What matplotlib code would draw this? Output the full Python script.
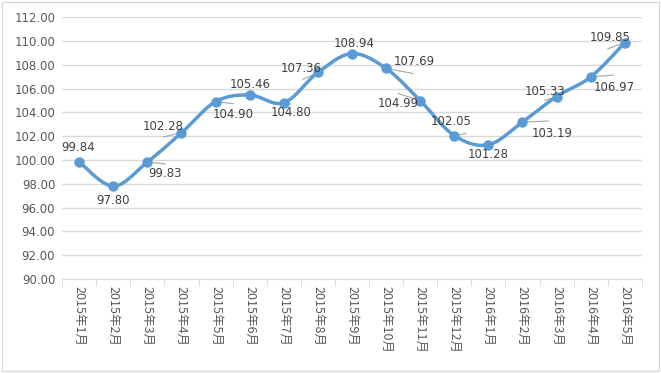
import matplotlib
matplotlib.use("Agg")
import matplotlib.pyplot as plt
import numpy as np

plt.rcParams['font.family'] = ['Noto Sans CJK SC', 'DejaVu Sans']

months = ["2015年1月", "2015年2月", "2015年3月", "2015年4月", "2015年5月", "2015年6月",
          "2015年7月", "2015年8月", "2015年9月", "2015年10月", "2015年11月", "2015年12月",
          "2016年1月", "2016年2月", "2016年3月", "2016年4月", "2016年5月"]
values = [99.84, 97.80, 99.83, 102.28, 104.90, 105.46, 104.80, 107.36, 108.94,
          107.69, 104.99, 102.05, 101.28, 103.19, 105.33, 106.97, 109.85]

# label offsets in pixels (dx, dy)
label_off = [(-1, 14), (0, -14), (18, -11), (-18, 6), (18, -13), (0, 10), (7, -10),
             (-17, 4), (2, 10), (28, 7), (-22, -3), (-3, 14), (0, -10), (30, -11),
             (-12, 5), (24, -10), (-15, 5)]
# leader line end (pixels from the point), None = no leader
leader = [None, None, (18, -2), (-18, -4), (18, -2), None, (7, -1), (-15, -7), None,
          (27, -5), (-22, 7), (12, 2), None, (26, 1), (-12, -4), (23, 2), (-17, -6)]

color = '#5B9BD5'

fig = plt.figure(figsize=(6.61, 3.73), dpi=100)
ax = fig.add_axes([0.094, 0.252, 0.877, 0.702])

# smooth curve (Catmull-Rom, like Excel's smoothed line)
x = np.arange(len(values), dtype=float)
y = np.array(values)
px = np.concatenate([[x[0]], x, [x[-1]]])
py = np.concatenate([[y[0]], y, [y[-1]]])
sx, sy = [], []
t = np.linspace(0, 1, 30)
for i in range(1, len(px) - 2):
    p0, p1, p2, p3 = [np.array([px[j], py[j]]) for j in (i - 1, i, i + 1, i + 2)]
    c1 = p1 + (p2 - p0) / 6
    c2 = p2 - (p3 - p1) / 6
    pts = ((1 - t) ** 3)[:, None] * p1 + (3 * (1 - t) ** 2 * t)[:, None] * c1 \
        + (3 * (1 - t) * t ** 2)[:, None] * c2 + (t ** 3)[:, None] * p2
    sx.extend(pts[:, 0]); sy.extend(pts[:, 1])
ax.plot(sx, sy, color=color, lw=2.5, solid_capstyle='round', zorder=3)
ax.plot(x, y, 'o', color=color, ms=6.5, zorder=4)

for i, v in enumerate(values):
    if leader[i] is not None:
        ax.annotate('', (i, v), xytext=leader[i], textcoords='offset pixels',
                    arrowprops=dict(arrowstyle='-', color='#A6A6A6', lw=0.8,
                                    shrinkA=0, shrinkB=0), zorder=2)
    dx, dy = label_off[i]
    ax.annotate(f"{v:.2f}", (i, v), xytext=(dx, dy), textcoords='offset pixels',
                ha='center', va='center', fontsize=8.5, color='#404040',
                family='DejaVu Sans', zorder=5)

ax.set_xlim(-0.5, len(values) - 0.5)
ax.set_ylim(90, 112)
ax.set_yticks(np.arange(90, 113, 2))
ax.set_yticklabels([f"{v:.2f}" for v in np.arange(90, 113, 2)],
                   family='DejaVu Sans', fontsize=8.5, color='#595959')
ax.set_xticks(x)
ax.set_xticklabels(months, rotation=-90, fontsize=9, color='#595959', va='top')
ax.set_xticks(np.arange(-0.5, len(values)), minor=True)
ax.tick_params(axis='x', which='major', length=0, pad=5)
ax.tick_params(axis='x', which='minor', length=5, color='#D9D9D9', direction='out')
ax.tick_params(axis='y', length=0, pad=5)
ax.grid(axis='y', color='#D9D9D9', lw=1)
ax.set_axisbelow(True)
for s in ['left', 'right', 'top']:
    ax.spines[s].set_visible(False)
ax.spines['bottom'].set_color('#D9D9D9')

fig.patches.append(plt.Rectangle((0.003, 0.005), 0.994, 0.99, transform=fig.transFigure,
                                 fill=False, ec='#D9D9D9', lw=1))

fig.savefig("out.png", dpi=100)
